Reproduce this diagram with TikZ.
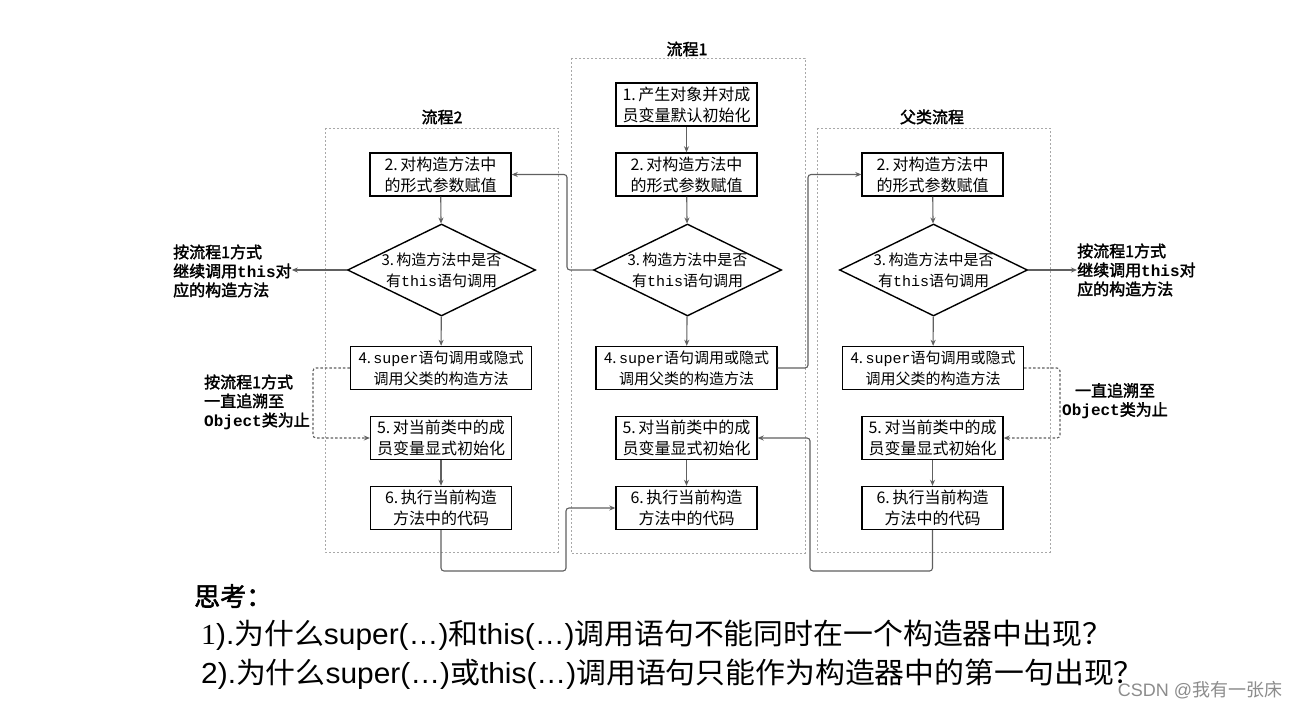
\documentclass[tikz,border=0pt]{standalone}
\usepackage{fontspec}
\setmainfont{Noto Sans CJK SC}
\newfontfamily\lsans{Liberation Sans}
\newfontfamily\lserif{Liberation Serif}
\newfontfamily\lmono{Liberation Mono}
\newfontfamily\cjkbold{Noto Sans CJK SC}[FakeBold=2]
\usetikzlibrary{shapes.geometric,arrows.meta}
\definecolor{conncol}{HTML}{606060}
\definecolor{framecol}{HTML}{A8A8A8}
\tikzset{
  box/.style={draw=black, line width=1.4pt, minimum width=141pt, minimum height=43pt,
    inner sep=0pt, align=center, font=\fontsize{16}{21}\selectfont},
  widebox/.style={box, minimum width=181pt, font=\fontsize{15}{21}\selectfont},
  dia/.style={draw=black, line width=1.4pt, diamond, minimum width=188pt,
    minimum height=92pt, inner sep=0pt},
  dtext/.style={align=center, inner sep=0pt, font=\fontsize{15}{21}\selectfont},
  frame/.style={draw=framecol, line width=0.8pt, dash pattern=on 2pt off 2pt},
  title/.style={font=\cjkbold\fontsize{16}{18}\selectfont, inner sep=0pt},
  side/.style={font=\cjkbold\fontsize{16}{19}\selectfont, inner sep=0pt},
  conn/.style={draw=conncol, line width=1.1pt, rounded corners=3pt,
    -{Stealth[length=6pt,width=5pt]}},
  dconn/.style={conn, dash pattern=on 2.5pt off 2pt},
}
\newcommand\mth{{\lmono this}}
\newcommand\msuper{{\lmono super}}
\begin{document}
\begin{tikzpicture}[x=1pt,y=-1pt]
\useasboundingbox (0,0) rectangle (1297,706);
\fill[white] (0,0) rectangle (1297,706);

% frames
\draw[frame] (571,58) rectangle (805,553);
\draw[frame] (325,128) rectangle (558,552);
\draw[frame] (817,128) rectangle (1050,552);

% titles
\node[title] (t1) at (687,49) {流程1};
\node[title] (t2) at (442,117) {流程2};
\node[title] (tF) at (932,117) {父类流程};

% column 1 (流程1)
\node[box] (b11) at (686.5,104.5) {1.\,产生对象并对成\\员变量默认初始化};
\node[box] (b12) at (686.5,174.5) {2.\,对构造方法中\\的形式参数赋值};
\node[dia] (d1) at (687.5,270) {};
\node[dtext] (d1t) at (d1) {3.\,构造方法中是否\\有\mth 语句调用};
\node[widebox] (b14) at (686.5,368) {4.\,\msuper 语句调用或隐式\\调用父类的构造方法};
\node[box] (b15) at (686.5,438) {5.\,对当前类中的成\\员变量显式初始化};
\node[box] (b16) at (686.5,508) {6.\,执行当前构造\\方法中的代码};

% column 2 (流程2)
\node[box] (b22) at (440.5,174.5) {2.\,对构造方法中\\的形式参数赋值};
\node[dia] (d2) at (441.5,270) {};
\node[dtext] (d2t) at (d2) {3.\,构造方法中是否\\有\mth 语句调用};
\node[widebox] (b24) at (441,368) {4.\,\msuper 语句调用或隐式\\调用父类的构造方法};
\node[box] (b25) at (441,438) {5.\,对当前类中的成\\员变量显式初始化};
\node[box] (b26) at (441,508) {6.\,执行当前构造\\方法中的代码};

% father column
\node[box] (bF2) at (932.5,174.5) {2.\,对构造方法中\\的形式参数赋值};
\node[dia] (dF) at (933.5,270) {};
\node[dtext] (dFt) at (dF) {3.\,构造方法中是否\\有\mth 语句调用};
\node[widebox] (bF4) at (933,368) {4.\,\msuper 语句调用或隐式\\调用父类的构造方法};
\node[box] (bF5) at (932.5,438) {5.\,对当前类中的成\\员变量显式初始化};
\node[box] (bF6) at (932.5,508) {6.\,执行当前构造\\方法中的代码};

% side labels
\node[side, anchor=west, align=left] (lE) at (173,271)
  {按流程1方式\\继续调用{\lmono\bfseries this}对\\应的构造方法};
\node[side, anchor=west, align=left] (lF) at (1077,270)
  {按流程1方式\\继续调用{\lmono\bfseries this}对\\应的构造方法};
\node[side, anchor=west, align=left] (lG) at (204,402)
  {按流程1方式\\一直追溯至\\{\lmono\bfseries Object}类为止};
\node[side, align=center] (lH) at (1115,401)
  {一直追溯至\\{\lmono\bfseries Object}类为止};

% vertical arrows
\draw[conn] (b11) -- (b12);
\draw[conn] (b12) -- (d1);
\draw[conn] (d1) -- (b14);
\draw[conn] (b15) -- (b16);
\draw[conn] (b22) -- (d2);
\draw[conn] (d2) -- (b24);
\draw[conn] (b25) -- (b26);
\draw[conn] (bF2) -- (dF);
\draw[conn] (dF) -- (bF4);
\draw[conn] (bF5) -- (bF6);

% cross connectors
\draw[conn] (d1.west) -- (567,270) |- (b22.east);
\draw[conn] (b14.east) -- (808,368) |- (bF2.west);
\draw[conn] (bF6.south) |- (810,571) |- (b15.east);
\draw[conn] (b26.south) |- (566,571) |- (b16.west);
\draw[conn] (d2.west) -- (d2.west -| lE.east);
\draw[conn] (dF.east) -- (dF.east -| lF.west);
\draw[dconn] (b24.west) -- (313,368) |- (b25.west);
\draw[dconn] (bF4.east) -- (1060,368) |- (bF5.east);

% bottom text
\node[anchor=west, inner sep=0pt, font=\cjkbold\fontsize{26}{30}\selectfont] (think) at (194,596) {思考：};
\node[anchor=west, inner sep=0pt, font=\fontsize{29}{32}\selectfont] (q1) at (201,635)
  {\scalebox{1.03}[1]{{\lserif 1}{\lsans ).}为什么{\lsans super(…)}和{\lsans this(…)}调用语句不能同时在一个构造器中出现？}};
\node[anchor=west, inner sep=0pt, font=\fontsize{29}{32}\selectfont] (q2) at (201,674)
  {\scalebox{1.03}[1]{{\lsans 2).}为什么{\lsans super(…)}或{\lsans this(…)}调用语句只能作为构造器中的第一句出现？}};
\node[inner sep=0pt, text=black!45, font=\fontsize{18}{20}\selectfont] (wm) at (1200,690)
  {{\lsans CSDN @}我有一张床};
\end{tikzpicture}
\end{document}
